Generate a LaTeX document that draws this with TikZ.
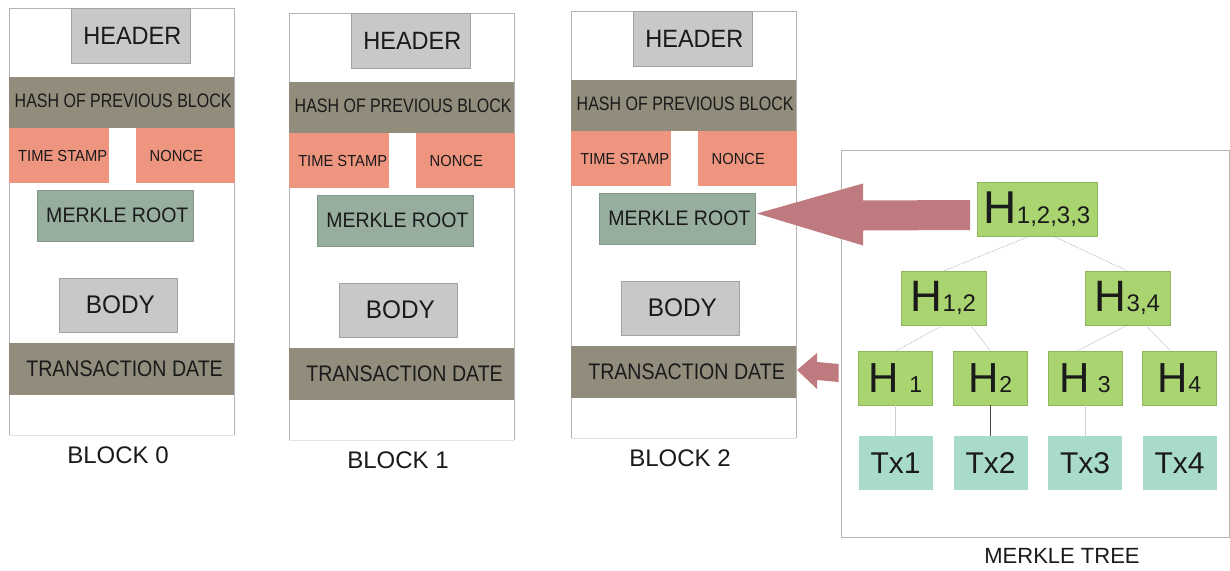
\documentclass[tikz,border=0pt]{standalone}
\usepackage{fontspec}
\setmainfont{Liberation Sans}
\usetikzlibrary{calc}
\definecolor{txt}{HTML}{1A1A1A}
\definecolor{grayb}{HTML}{C8C8C8}
\definecolor{grayd}{HTML}{A2A2A2}
\definecolor{khaki}{HTML}{918C7C}
\definecolor{salmon}{HTML}{EE957F}
\definecolor{mrc}{HTML}{97AE9F}
\definecolor{mrd}{HTML}{80978A}
\definecolor{hgreen}{HTML}{A9D470}
\definecolor{hgreend}{HTML}{8FB85C}
\definecolor{mint}{HTML}{A9DCC8}
\definecolor{framec}{HTML}{B4B4B4}
\definecolor{framel}{HTML}{E2E2E2}
\definecolor{linkc}{HTML}{9A9A9A}
\definecolor{linkl}{HTML}{CFCFCF}
\definecolor{arrc}{HTML}{BF7A80}
\newcommand\ft[3]{\scalebox{#2}[1]{\fontsize{#1}{#1}\selectfont #3}}
\tikzset{
  frame/.style={draw=framec, line width=0.8pt},
  framefaint/.style={draw=framel, line width=0.6pt},
  cell/.style={inner sep=0pt, outer sep=0pt, text=txt},
  greybox/.style={cell, fill=grayb, draw=grayd, line width=0.6pt},
  khakibox/.style={cell, fill=khaki},
  salmonbox/.style={cell, fill=salmon},
  rootbox/.style={cell, fill=mrc, draw=mrd, line width=0.5pt},
  hnode/.style={cell, fill=hgreen, draw=hgreend, line width=0.5pt, minimum width=74pt, minimum height=54pt},
  txnode/.style={cell, fill=mint, minimum width=74pt, minimum height=54pt},
  lbl/.style={inner sep=0pt, text=txt},
  link/.style={draw=linkc, line width=0.5pt, dash pattern=on 1pt off 1pt},
  faintlink/.style={draw=linkl, line width=0.6pt},
  darklink/.style={draw=txt!80, line width=0.6pt},
  arrowfill/.style={fill=arrc}
}
\newcommand\drawblock[4]{%
  \begin{scope}[shift={(#2,#3)}]
    \draw[frame] (9,435) -- (9,8) -- (234,8) -- (234,435);
    \draw[framefaint] (9,435) -- (234,435);
    \node[greybox, minimum width=119pt, minimum height=55pt] (hd#1) at (130.5,35.5) {\ft{25}{0.94}{\hspace*{4pt}HEADER}};
    \node[khakibox, minimum width=225pt, minimum height=51pt] (hp#1) at (121.5,102.5) {\ft{19.5}{0.82}{\hspace*{4pt}HASH OF PREVIOUS BLOCK\rule[-3pt]{0pt}{3pt}}};
    \node[salmonbox, minimum width=100pt, minimum height=55pt] (ts#1) at (59,155.5) {\ft{16}{0.92}{\hspace*{8pt}TIME STAMP}};
    \node[salmonbox, minimum width=99pt, minimum height=55pt] (nc#1) at (185.5,155.5) {\ft{16}{0.92}{NONCE\hspace*{20pt}}};
    \node[rootbox, minimum width=156pt, minimum height=51pt] (mr#1) at (115,215.5) {\ft{21}{0.93}{\hspace*{5pt}MERKLE ROOT}};
    \node[greybox, minimum width=118pt, minimum height=54pt] (bd#1) at (118,305) {\ft{25.5}{0.955}{\hspace*{5pt}BODY}};
    \node[khakibox, minimum width=225pt, minimum height=52pt] (td#1) at (121.5,369) {\ft{22.5}{0.87}{\hspace*{7pt}TRANSACTION DATE}};
    \node[lbl] (lb#1) at (118,455.5) {\ft{24}{1}{BLOCK #4}};
  \end{scope}}
\begin{document}
\begin{tikzpicture}[x=1pt,y=-1pt]
  \useasboundingbox[fill=white] (0,0) rectangle (1230,570);
  \drawblock{0}{0}{0}{0}
  \drawblock{1}{280}{5}{1}
  \drawblock{2}{562}{3}{2}
  % Merkle tree frame
  \draw[frame] (841,150) rectangle (1229.5,537);
  \node[cell, fill=hgreen, draw=hgreend, line width=0.5pt, minimum width=120pt, minimum height=54pt] (root) at (1037,209)
    {\fontsize{46}{46}\selectfont H\fontsize{24}{24}\selectfont 1,2,3,3};
  \node[cell, fill=hgreen, draw=hgreend, line width=0.5pt, minimum width=85pt, minimum height=54pt] (h12) at (943.5,298)
    {\fontsize{44}{44}\selectfont H\fontsize{24}{24}\selectfont 1,2};
  \node[cell, fill=hgreen, draw=hgreend, line width=0.5pt, minimum width=85pt, minimum height=54pt] (h34) at (1127.5,298)
    {\fontsize{44}{44}\selectfont H\fontsize{24}{24}\selectfont 3,4};
  \node[hnode] (h1) at (895.5,378) {\fontsize{42}{42}\selectfont H\hspace{10pt}\fontsize{23}{23}\selectfont 1};
  \node[hnode] (h2) at (990.5,378) {\fontsize{42}{42}\selectfont H\fontsize{23}{23}\selectfont 2};
  \node[hnode] (h3) at (1085,378) {\fontsize{42}{42}\selectfont H\hspace{8pt}\fontsize{23}{23}\selectfont 3};
  \node[hnode] (h4) at (1179.5,378) {\fontsize{42}{42}\selectfont H\fontsize{23}{23}\selectfont 4};
  \node[txnode] (tx1) at (895.5,463) {\fontsize{30}{30}\selectfont Tx1};
  \node[txnode] (tx2) at (990.5,463) {\fontsize{30}{30}\selectfont Tx2};
  \node[txnode] (tx3) at (1085,463) {\fontsize{30}{30}\selectfont Tx3};
  \node[txnode] (tx4) at (1179.5,463) {\fontsize{30}{30}\selectfont Tx4};
  \node[lbl] (mtl) at (1062,556) {\ft{22}{1}{MERKLE TREE}};
  % tree connectors
  \draw[link] ($(root.south)+(-7,0)$) -- (h12.north);
  \draw[link] ($(root.south)+(16,0)$) -- (h34.north);
  \draw[link] (h12.south) -- (h1.north);
  \draw[faintlink] ($(h12.south)+(27,0)$) -- (h2.north);
  \draw[link] (h34.south) -- ($(h3.north)+(-8,0)$);
  \draw[faintlink] ($(h34.south)+(18,0)$) -- ($(h4.north)+(-9,0)$);
  \draw[faintlink] (h1.south) -- (tx1.north);
  \draw[darklink] (h2.south) -- (tx2.north);
  \draw[faintlink] (h3.south) -- (tx3.north);
  % big arrow: root -> merkle root of block 2
  \coordinate (T) at ($(mr2.east)+(2,-5)$);
  \coordinate (R) at ($(root.west)+(-7,6)$);
  \fill[arrowfill] (T) -- ($(T)+(106,-30)$) -- ($(T)+(106,-13)$) -- ($(R)+(0,-15)$)
    -- ($(R)+(0,15)$) -- ($(T)+(106,17)$) -- ($(T)+(106,32)$) -- cycle;
  % small arrow: H1 -> transaction date of block 2
  \coordinate (S) at ($(td2.east)+(1,-2)$);
  \coordinate (Q) at ($(h1.west)+(-20,-6)$);
  \fill[arrowfill] (S) -- ($(S)+(20,-17)$) -- ($(S)+(20,-8)$) -- ($(Q)+(0,-8)$)
    -- ($(Q)+(0,10)$) -- ($(S)+(20,10)$) -- ($(S)+(20,19)$) -- cycle;
\end{tikzpicture}
\end{document}
